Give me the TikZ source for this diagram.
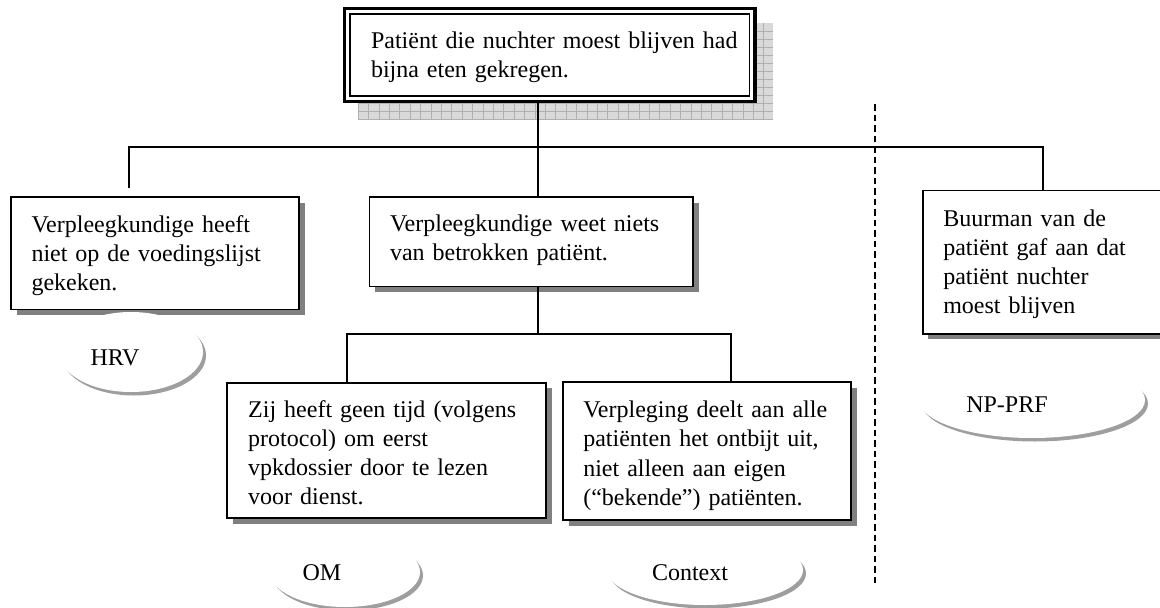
\documentclass[tikz,border=0pt]{standalone}
\usepackage{fontspec}
\setmainfont{Liberation Serif}
\usetikzlibrary{shapes.geometric,shadows}
\newcommand\diafont{\fontsize{24pt}{29.2pt}\selectfont}

\begin{document}
\begin{tikzpicture}[x=1pt,y=-1pt,
  textbox/.style={draw, line width=1.7pt, fill=white, align=left,
    anchor=north west, inner ysep=0pt, outer sep=0pt, font=\diafont,
    drop shadow={shadow xshift=5.5pt, shadow yshift=-5.5pt, fill=black!50, opacity=1}},
  headbox/.style={draw, line width=3.5pt, fill=white, align=left,
    anchor=north west, inner ysep=0pt, outer sep=0pt, font=\diafont},
  oval/.style={ellipse, draw=none, fill=white,
    inner sep=0pt, outer sep=0pt, text depth=0pt, font=\diafont,
    drop shadow={shadow xshift=3pt, shadow yshift=-3.5pt, fill=black!38, opacity=1}},
  conn/.style={line width=1.7pt},
  divider/.style={line width=1.6pt, dash pattern=on 6.5pt off 4pt}]

\useasboundingbox (0,0) rectangle (1160,608);
\clip (0,0) rectangle (1160,608);

% hatched shadow behind the head box
\fill[gray!30] (358,23) rectangle (773,120);
\begin{scope}
  \clip (358,23) rectangle (773,120);
  \foreach \gx in {0,...,40}
    \draw[gray!62, line width=0.5pt] (358+\gx*10.4,23) -- ++(0,97);
  \foreach \gy in {1,...,12}
    \draw[gray!62, line width=0.5pt] (358,23+\gy*8) -- ++(415,0);
\end{scope}

% head box with double frame
\node[headbox, text width=382.3pt, inner xsep=14pt, text height=39.8pt, text depth=53.2pt]
  (T) at (344.7,8.5) {\hspace*{12.3pt}Patiënt die nuchter moest blijven had\\\hspace*{12.3pt}bijna eten gekregen.};
\draw[line width=1.5pt] ([shift={(5.5,5.5)}]T.north west) rectangle ([shift={(-5.5,-5.5)}]T.south east);

% cause boxes
\node[textbox, text width=247pt, inner xsep=20.5pt, text height=35.3pt, text depth=77.2pt]
  (A) at (11,197) {Verpleegkundige heeft\\niet op de voedingslijst\\gekeken.};
\node[textbox, text width=282.5pt, inner xsep=20.5pt, text height=34.7pt, text depth=54.8pt]
  (B) at (369.5,197) {Verpleegkundige weet niets\\van betrokken patiënt.};
\node[textbox, text width=277.1pt, inner xsep=21pt, text height=34.5pt, text depth=101pt]
  (C) at (227.2,382.8) {Zij heeft geen tijd (volgens\\protocol) om eerst\\vpkdossier door te lezen\\voor dienst.};
\node[textbox, text width=247.6pt, inner xsep=20.3pt, text height=35.4pt, text depth=102.6pt]
  (D) at (563,382.3) {Verpleging deelt aan alle\\patiënten het ontbijt uit,\\niet alleen aan eigen\\(“bekende”) patiënten.};
\node[textbox, text width=199.2pt, inner xsep=20.5pt, text height=35.5pt, text depth=107.8pt]
  (E) at (922.8,190.5) {Buurman van de\\patiënt gaf aan dat\\patiënt nuchter\\moest blijven};

% classification ovals
\node[oval, minimum width=144pt, minimum height=80pt, text height=26pt] (hrv) at (131,352) {HRV\kern32pt};
\node[oval, minimum width=150pt, minimum height=70pt, text height=16pt] (om) at (345,572) {OM\kern46pt};
\node[oval, minimum width=196pt, minimum height=70pt, text height=20pt] (ctx) at (705,570) {Context\kern30pt};
\node[oval, minimum width=226pt, minimum height=76pt, text height=24pt] (np) at (1032,400) {NP-PRF\kern50pt};

% tree connectors
\coordinate (mainL) at (129.3,147.3);
\coordinate (mainR) at (1042.9,147.3);
\coordinate (spine) at (537.7,147.3);
\coordinate (subL) at (346.7,334.3);
\coordinate (subR) at (731,334.3);

\draw[conn, shorten <=8.7pt] (mainL |- A.north) -- (mainL) -- (mainR) -- (E.north);
\draw[conn] (spine |- T.south) -- (spine |- B.north);
\draw[conn] (spine |- B.south) -- (spine |- subL);
\draw[conn] (subL |- C.north) -- (subL) -- (subR) -- (subR |- D.north);

% dashed separator
\coordinate (divTop) at (875,104);
\coordinate (divBot) at (875,583);
\draw[divider] (divTop) -- (divBot);

\end{tikzpicture}
\end{document}
